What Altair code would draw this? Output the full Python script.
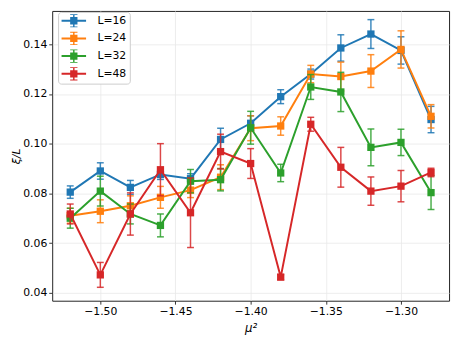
import altair as alt
import pandas as pd

mu = [-1.52, -1.50, -1.48, -1.46, -1.44, -1.42, -1.40, -1.38, -1.36, -1.34, -1.32, -1.30, -1.28]
labels = ["L=16", "L=24", "L=32", "L=48"]
colors = ["#1f77b4", "#ff7f0e", "#2ca02c", "#d62728"]

xi16 = [0.0805, 0.0890, 0.0824, 0.0876, 0.0859, 0.1017, 0.1082, 0.1189, 0.1280, 0.1385, 0.1441, 0.1375, 0.1097]
err16 = [0.0025, 0.0033, 0.0028, 0.0020, 0.0020, 0.0045, 0.0030, 0.0028, 0.0020, 0.0053, 0.0058, 0.0055, 0.0053]

xi24 = [0.0710, 0.0728, 0.0750, 0.0784, 0.0813, 0.0865, 0.1062, 0.1071, 0.1280, 0.1270, 0.1292, 0.1379, 0.1110]
err24 = [0.0030, 0.0046, 0.0040, 0.0044, 0.0030, 0.0050, 0.0050, 0.0037, 0.0035, 0.0058, 0.0066, 0.0075, 0.0047]

xi32 = [0.0700, 0.0809, 0.0717, 0.0671, 0.0849, 0.0855, 0.1064, 0.0882, 0.1228, 0.1208, 0.0985, 0.1005, 0.0803]
err32 = [0.0040, 0.0060, 0.0040, 0.0046, 0.0047, 0.0045, 0.0066, 0.0035, 0.0050, 0.0079, 0.0074, 0.0053, 0.0068]

xi48 = [0.0717, 0.0472, 0.0717, 0.0895, 0.0722, 0.0968, 0.0920, 0.0463, 0.1078, 0.0905, 0.0809, 0.0829, 0.0884]
err48 = [0.0040, 0.0050, 0.0085, 0.0105, 0.0140, 0.0070, 0.0060, 0.0010, 0.0028, 0.0080, 0.0057, 0.0063, 0.0017]

x_ticks = [-1.50, -1.45, -1.40, -1.35, -1.30]
y_ticks = [0.04, 0.06, 0.08, 0.10, 0.12, 0.14]

series = {"L=16": (xi16, err16), "L=24": (xi24, err24), "L=32": (xi32, err32), "L=48": (xi48, err48)}
rows = []
for lab in labels:
    vals, errs = series[lab]
    for m, v, e in zip(mu, vals, errs):
        rows.append({"L": lab, "mu": m, "xi": v, "lo": v - e, "hi": v + e})
df = pd.DataFrame(rows)

FONT = "DejaVu Sans"

xenc = alt.X("mu:Q",
             scale=alt.Scale(domain=[-1.532, -1.268], nice=False, zero=False),
             axis=alt.Axis(values=x_ticks, format=".2f", title="μ²", titleFontStyle="italic"))
yscale = alt.Scale(domain=[0.0368, 0.1534], nice=False, zero=False)
yaxis = alt.Axis(values=y_ticks, format=".2f", title="ξ/L", titleFontStyle="italic")

cscale = alt.Scale(domain=labels, range=colors)

# legend glyph built only from filled shapes: line, square marker, error bar with caps
legend_path = ("M-2.08,-0.17H2.08V0.17H-2.08Z"
               "M-0.62,-0.62H0.62V0.62H-0.62Z"
               "M-0.12,-1.05H0.12V1.05H-0.12Z"
               "M-0.62,-1.12H0.62V-0.98H-0.62Z"
               "M-0.62,0.98H0.62V1.12H-0.62Z")

leg = alt.Legend(title=None, orient="none", legendX=6, legendY=1,
                 symbolType=legend_path, symbolSize=144, symbolStrokeWidth=0,
                 symbolOpacity=1, symbolOffset=7,
                 labelFontSize=11, labelFont=FONT, labelColor="black",
                 fillColor="white", strokeColor="#cccccc", padding=3,
                 cornerRadius=3, labelOffset=18, rowPadding=4)

col = alt.Color("L:N", scale=cscale, legend=leg)

# first layer: invisible filled points, so the shared legend uses filled symbols
layers = [alt.Chart(df).mark_point(shape="square", filled=True, opacity=0).encode(
    x=xenc, y=alt.Y("xi:Q", scale=yscale, axis=yaxis), color=col)]

for lab in labels:
    base = alt.Chart(df).transform_filter(alt.datum.L == lab)
    rule = base.mark_rule(strokeWidth=1.5, opacity=0.85).encode(
        x=xenc, y=alt.Y("lo:Q", scale=yscale, axis=yaxis), y2="hi:Q", color=col)
    tlo = base.mark_tick(orient="horizontal", size=7, thickness=1.5, opacity=0.85).encode(
        x=xenc, y=alt.Y("lo:Q", scale=yscale, axis=yaxis), color=col)
    thi = base.mark_tick(orient="horizontal", size=7, thickness=1.5, opacity=0.85).encode(
        x=xenc, y=alt.Y("hi:Q", scale=yscale, axis=yaxis), color=col)
    line = base.mark_line(strokeWidth=2).encode(
        x=xenc, y=alt.Y("xi:Q", scale=yscale, axis=yaxis), color=col)
    pts = base.mark_point(shape="square", filled=True, size=55, opacity=1).encode(
        x=xenc, y=alt.Y("xi:Q", scale=yscale, axis=yaxis), color=col)
    layers += [rule, tlo, thi, line, pts]

chart = alt.layer(*layers).properties(
    width=404, height=295,
    autosize=alt.AutoSizeParams(type="none"),
    padding={"left": 45, "top": 0, "right": 4, "bottom": 37},
    background="white",
).configure_view(
    stroke="#222222", strokeWidth=1
).configure_axis(
    labelFont=FONT, labelFontSize=11, labelColor="black",
    titleFont=FONT, titleFontSize=12, titleColor="black", titleFontWeight="normal",
    tickColor="black", tickSize=3.5, tickWidth=0.8,
    domain=False, grid=True, gridColor="#e8e8e8", gridWidth=0.8,
    labelPadding=2,
).configure_axisY(
    titlePadding=1, titleFontSize=11
).configure_axisX(
    titlePadding=6
)

chart.save("out.html", embed_options={"renderer": "svg", "actions": False})
